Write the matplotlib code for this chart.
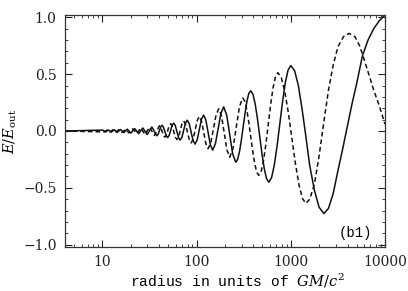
import matplotlib
matplotlib.use("Agg")
import matplotlib.pyplot as plt
import numpy as np
from matplotlib.ticker import FixedLocator, NullFormatter, FixedFormatter, LogLocator

# log10(radius) and E/E_out for the solid curve
log_radius_solid = [
    0.602, 1.005, 1.0335, 1.063, 1.093, 1.1245, 1.157, 1.191, 1.226, 1.263,
    1.3015, 1.342, 1.384, 1.428, 1.475, 1.5245, 1.577, 1.591, 1.605, 1.619,
    1.6325, 1.6474, 1.6623, 1.6771, 1.692, 1.708, 1.724, 1.740, 1.756, 1.773,
    1.7905, 1.808, 1.825, 1.844, 1.8625, 1.881, 1.900, 1.921, 1.9415, 1.962,
    1.983, 2.006, 2.0285, 2.051, 2.074, 2.098, 2.122, 2.146, 2.17, 2.199,
    2.2285, 2.258, 2.287, 2.319, 2.351, 2.383, 2.415, 2.4349, 2.455, 2.4746,
    2.4945, 2.5144, 2.534, 2.554, 2.574, 2.598, 2.622, 2.646, 2.67, 2.694,
    2.718, 2.742, 2.766, 2.79525, 2.8245, 2.85375, 2.883, 2.91225, 2.9415, 2.97075,
    3.0, 3.04, 3.08, 3.12, 3.16, 3.20, 3.25, 3.30, 3.351, 3.40,
    3.45, 3.50, 3.55, 3.60, 3.65, 3.70, 3.76, 3.82, 3.88, 3.94, 4.0,
]
E_solid = [
    0.0, 0.008, -0.0085, 0.009, -0.010, 0.011, -0.012, 0.013, -0.014, 0.016,
    -0.018, 0.021, -0.024, 0.027, -0.031, 0.036, -0.042, -0.0285, 0.004, 0.0365,
    0.05, 0.034, -0.004, -0.042, -0.058, -0.039, 0.006, 0.051, 0.07, 0.048,
    -0.005, -0.058, -0.08, -0.054, 0.0075, 0.069, 0.095, 0.064, -0.01, -0.084,
    -0.115, -0.078, 0.0125, 0.103, 0.14, 0.095, -0.014, -0.123, -0.168, -0.112,
    0.022, 0.156, 0.212, 0.141, -0.031, -0.203, -0.274, -0.250, -0.182, -0.080,
    0.04, 0.160, 0.262, 0.330, 0.354, 0.323, 0.236, 0.106, -0.048, -0.202,
    -0.332, -0.419, -0.45, -0.411, -0.30, -0.1336, 0.0625, 0.2586, 0.425, 0.536,
    0.575, 0.53, 0.40, 0.19, -0.05, -0.30, -0.52, -0.67, -0.726, -0.68,
    -0.55, -0.35, -0.16, 0.04, 0.24, 0.42, 0.66, 0.80, 0.90, 0.97, 1.02,
]

# log10(radius) and E/E_out for the dashed curve
log_radius_dashed = [
    0.602, 1.019, 1.048, 1.078, 1.109, 1.141, 1.174, 1.2085, 1.2445, 1.282,
    1.322, 1.363, 1.406, 1.4515, 1.5, 1.551, 1.605, 1.619, 1.6335, 1.648,
    1.662, 1.6775, 1.693, 1.7085, 1.724, 1.7406, 1.757, 1.774, 1.7905, 1.8085,
    1.8265, 1.8445, 1.8625, 1.882, 1.902, 1.922, 1.9415, 1.963, 1.985, 2.007,
    2.0285, 2.052, 2.075, 2.099, 2.122, 2.150, 2.1785, 2.207, 2.235, 2.264,
    2.293, 2.322, 2.351, 2.3855, 2.42, 2.4545, 2.489, 2.5104, 2.5318, 2.553,
    2.5745, 2.596, 2.6173, 2.6386, 2.66, 2.685, 2.7105, 2.736, 2.761, 2.786,
    2.8115, 2.837, 2.862, 2.899, 2.9365, 2.974, 3.011, 3.048, 3.0855, 3.123,
    3.16, 3.20, 3.25, 3.30, 3.354, 3.40, 3.45, 3.50, 3.56, 3.62,
    3.68, 3.73, 3.763, 3.82, 3.88, 3.94, 4.0,
]
E_dashed = [
    0.0, -0.008, 0.0085, -0.009, 0.010, -0.011, 0.012, -0.013, 0.015, -0.017,
    0.019, -0.022, 0.025, -0.029, 0.033, -0.039, 0.046, 0.031, -0.004, -0.039,
    -0.054, -0.037, 0.005, 0.047, 0.064, 0.0436, -0.0055, -0.055, -0.075, -0.051,
    0.0065, 0.064, 0.088, 0.060, -0.0085, -0.077, -0.105, -0.071, 0.0115, 0.094,
    0.128, 0.0865, -0.0135, -0.1135, -0.155, -0.104, 0.02, 0.144, 0.195, 0.133,
    -0.0175, -0.168, -0.23, -0.154, 0.03, 0.214, 0.29, 0.264, 0.190, 0.080,
    -0.05, -0.180, -0.290, -0.364, -0.39, -0.356, -0.258, -0.111, 0.0615, 0.234,
    0.381, 0.479, 0.513, 0.469, 0.345, 0.158, -0.062, -0.282, -0.469, -0.593,
    -0.637, -0.60, -0.47, -0.22, 0.1, 0.36, 0.58, 0.74, 0.83, 0.858,
    0.83, 0.75, 0.67, 0.52, 0.36, 0.22, 0.06,
]

x_ticks = [10, 100, 1000, 10000]
x_tick_labels = ["10", "100", "1000", "10000"]
y_ticks = [-1.0, -0.5, 0.0, 0.5, 1.0]
y_tick_labels = ["\u22121.0", "\u22120.5", "0.0", "0.5", "1.0"]

plt.rcParams['font.family'] = ['DejaVu Serif']
plt.rcParams['mathtext.fontset'] = 'dejavuserif'

fig = plt.figure(figsize=(4.08, 2.91), dpi=100)
ax = fig.add_axes([65/408, 1-247/291, (385-65)/408, (247-15)/291])

r_s = np.power(10.0, log_radius_solid)
r_d = np.power(10.0, log_radius_dashed)
ax.plot(r_s, E_solid, color='#111111', lw=1.1, solid_joinstyle='round')
ax.plot(r_d, E_dashed, color='#111111', lw=1.1, dashes=(3, 2))

ax.set_xscale('log')
ax.set_xlim(4, 10000)
ax.set_ylim(-1.02, 1.02)

ax.xaxis.set_major_locator(FixedLocator(x_ticks))
ax.xaxis.set_major_formatter(FixedFormatter(x_tick_labels))
ax.xaxis.set_minor_locator(LogLocator(base=10, subs=np.arange(2, 10)))
ax.xaxis.set_minor_formatter(NullFormatter())
ax.yaxis.set_major_locator(FixedLocator(y_ticks))
ax.yaxis.set_major_formatter(FixedFormatter(y_tick_labels))
ax.yaxis.set_minor_locator(FixedLocator(np.arange(-1.0, 1.01, 0.1)))

ax.tick_params(which='both', direction='in', top=True, right=True,
               labelsize=10, colors='#222222')
ax.tick_params(which='major', length=5, width=0.8, pad=6)
ax.tick_params(which='minor', length=2.5, width=0.6)
for s in ax.spines.values():
    s.set_linewidth(0.9)
    s.set_color('#333333')

ax.set_xlabel(r'radius in units of $GM/c^2$', fontsize=10.5,
              family=['Liberation Mono', 'DejaVu Serif'])
ax.xaxis.set_label_coords(0.54, -0.107)
ax.set_ylabel(r'$E/E_{\rm out}$', fontsize=10.5)
ax.yaxis.set_label_coords(-0.145, 0.5)

ax.text(4900, -0.9, '(b1)', fontsize=10, ha='center', va='center',
        family=['Liberation Mono', 'DejaVu Serif'])

fig.savefig('out.png', dpi=100)
